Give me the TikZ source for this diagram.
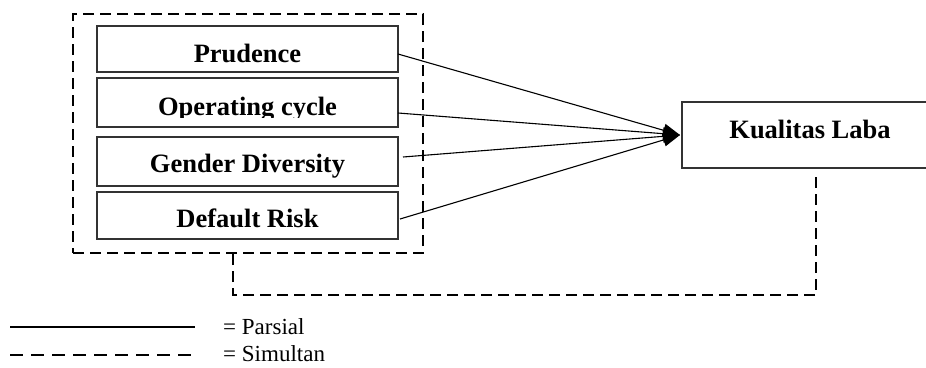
\documentclass[tikz,border=0pt]{standalone}
\usepackage{fontspec}
\setmainfont{Liberation Serif}
\usetikzlibrary{arrows.meta}
\begin{document}
\begin{tikzpicture}[x=1pt,y=-1pt,
  box/.style={draw=black!80,line width=1.3pt,inner sep=0pt,outer sep=0pt,minimum width=301pt},
  lbl/.style={font=\bfseries\fontsize{26.5}{30}\selectfont,anchor=base,inner sep=0pt},
  leg/.style={font=\fontsize{23}{27}\selectfont,anchor=base west,inner sep=0pt},
  dsh/.style={line width=1.6pt,dash pattern=on 11pt off 6pt},
  arr/.style={line width=1.1pt,-{Triangle[length=17pt,width=13pt]}}]
\useasboundingbox (0,0) rectangle (926,367);
\clip (0,0) rectangle (926,367);
% outer dashed group
\node[draw,dsh,inner sep=0pt,outer sep=0pt,minimum width=350pt,minimum height=239pt] (O) at (248,133.5) {};
% variable boxes
\node[box,minimum height=46pt] (P) at (247.5,49) {};
\node[box,minimum height=49pt] (C) at (247.5,102.5) {};
\node[box,minimum height=49pt] (G) at (247.5,161.5) {};
\node[box,minimum height=47pt] (D) at (247.5,215.5) {};
\node[box,minimum width=268pt,minimum height=66pt] (K) at (816,135) {};
% labels
\node[lbl] (Pt) at (247.5,62) {Prudence};
\begin{scope}
\clip (97,78) rectangle (398,117.5);
\node[lbl] (Ct) at (247.5,115) {Operating cycle};
\end{scope}
\node[lbl] (Gt) at (247.5,172) {Gender Diversity};
\node[lbl] (Dt) at (247.5,227) {Default Risk};
\node[lbl] (Kt) at (810,138) {Kualitas Laba};
% partial arrows
\draw[arr] ([yshift=-5pt]P.east) -- ([xshift=-2pt]K.west);
\draw[arr] ([yshift=-10.5pt]C.east) -- ([xshift=-2pt]K.west);
\draw[arr] ([xshift=5pt,yshift=4.5pt]G.east) -- ([xshift=-2pt]K.west);
\draw[arr] ([xshift=2pt,yshift=-3.5pt]D.east) -- ([xshift=-2pt]K.west);
% simultaneous connector
\coordinate (s1) at ([yshift=-9pt]K.south);
\coordinate (s2) at ([xshift=-15pt]O.south);
\draw[dsh] (s1) -- (s1 |- 0,295) -- (s2 |- 0,295) -- (s2);
% legend
\coordinate (l1) at (10,327);
\coordinate (l2) at (195,327);
\coordinate (l3) at (10,355);
\coordinate (l4) at (195,355);
\draw[line width=1.6pt] (l1) -- (l2);
\draw[line width=1.6pt,dash pattern=on 13pt off 8pt] (l3) -- (l4);
\node[leg] (Lp) at (223,334) {= Parsial};
\node[leg] (Ls) at (223,361) {= Simultan};
\end{tikzpicture}
\end{document}
